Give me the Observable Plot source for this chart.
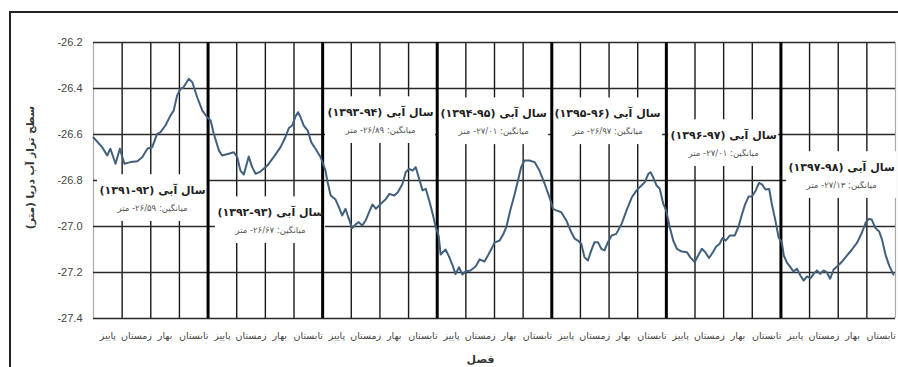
<!DOCTYPE html>
<html><head><meta charset="utf-8">
<script src="https://cdn.jsdelivr.net/npm/d3@7"></script>
<script src="https://cdn.jsdelivr.net/npm/@observablehq/plot@0.6"></script>
<style>
html,body{margin:0;padding:0;background:#fff;}
</style></head><body><div id="chart"></div>
<script>
// Categories / tick labels
const seasons = ["پاییز", "زمستان", "بهار", "تابستان"];
const yTicks = [-26.2, -26.4, -26.6, -26.8, -27.0, -27.2, -27.4];
const yTitle = "سطح تراز آب دریا (متر)";
const xTitle = "فصل";

// Water-year annotations
const waterYears = ["۹۲-۱۳۹۱", "۹۳-۱۳۹۲", "۹۴-۱۳۹۳", "۹۵-۱۳۹۴", "۹۶-۱۳۹۵", "۹۷-۱۳۹۶", "۹۸-۱۳۹۷"];
const yearMeans = ["۲۶/۵۹", "۲۶/۶۷", "۲۶/۸۹", "۲۷/۰۱", "۲۶/۹۷", "۲۷/۰۱", "۲۷/۱۳"];
const labelSeason = [2.06, 6.18, 10.02, 13.97, 17.95, 22.0, 26.12];
const labelLevel = [-26.843, -26.939, -26.504, -26.509, -26.509, -26.604, -26.743];

// Sea level series: [season position, level (m)] per water year
const wy1 = [[0,-26.613],[0.30,-26.655],[0.48,-26.691],[0.59,-26.662],[0.77,-26.727],[0.92,-26.662],[1.08,-26.727],[1.29,-26.720],[1.53,-26.716],[1.70,-26.699],[1.88,-26.662],[2.05,-26.655],[2.22,-26.597],[2.34,-26.590],[2.51,-26.561],[2.69,-26.517],[2.80,-26.496],[2.92,-26.430],[3.04,-26.401],[3.13,-26.397],[3.25,-26.373],[3.33,-26.358],[3.45,-26.373],[3.62,-26.438],[3.80,-26.496],[3.97,-26.525]];
const wy2 = [[4.09,-26.539],[4.20,-26.597],[4.38,-26.670],[4.49,-26.691],[4.72,-26.684],[4.90,-26.677],[5.02,-26.699],[5.13,-26.757],[5.25,-26.774],[5.42,-26.696],[5.54,-26.742],[5.66,-26.771],[5.83,-26.761],[6.07,-26.735],[6.30,-26.696],[6.53,-26.655],[6.70,-26.612],[6.82,-26.572],[6.94,-26.561],[7.05,-26.522],[7.14,-26.503],[7.23,-26.525],[7.34,-26.561],[7.48,-26.583],[7.60,-26.633],[7.75,-26.662],[7.93,-26.699]];
const wy3 = [[8.10,-26.757],[8.16,-26.800],[8.28,-26.865],[8.45,-26.883],[8.57,-26.917],[8.68,-26.952],[8.80,-26.923],[8.91,-26.965],[9.03,-27.007],[9.15,-26.991],[9.26,-26.981],[9.38,-26.996],[9.50,-26.974],[9.63,-26.935],[9.74,-26.904],[9.86,-26.923],[10.03,-26.901],[10.21,-26.880],[10.33,-26.858],[10.50,-26.865],[10.62,-26.852],[10.79,-26.814],[10.90,-26.764],[11.02,-26.749],[11.14,-26.757],[11.25,-26.742],[11.37,-26.793],[11.49,-26.843],[11.60,-26.836],[11.72,-26.887],[11.84,-26.945],[11.95,-27.003]];
const wy4 = [[12.05,-27.040],[12.12,-27.122],[12.29,-27.100],[12.41,-27.130],[12.54,-27.170],[12.64,-27.207],[12.76,-27.177],[12.88,-27.209],[12.99,-27.196],[13.16,-27.191],[13.34,-27.174],[13.48,-27.143],[13.65,-27.152],[13.79,-27.122],[13.90,-27.096],[14.00,-27.070],[14.18,-27.061],[14.30,-27.035],[14.42,-27.000],[14.54,-26.935],[14.70,-26.861],[14.82,-26.800],[14.93,-26.742],[15.05,-26.713],[15.22,-26.713],[15.40,-26.720],[15.57,-26.757],[15.75,-26.814],[15.92,-26.873]];
const wy5 = [[16.04,-26.923],[16.16,-26.930],[16.33,-26.938],[16.51,-26.974],[16.68,-27.025],[16.80,-27.053],[16.91,-27.061],[17.03,-27.075],[17.14,-27.133],[17.26,-27.148],[17.38,-27.104],[17.49,-27.068],[17.61,-27.068],[17.73,-27.097],[17.84,-27.104],[17.96,-27.068],[18.09,-27.039],[18.25,-27.032],[18.44,-26.988],[18.61,-26.930],[18.79,-26.874],[18.96,-26.843],[19.13,-26.822],[19.25,-26.807],[19.37,-26.771],[19.45,-26.764],[19.54,-26.786],[19.66,-26.822],[19.77,-26.836],[19.89,-26.901],[19.99,-26.930]];
const wy6 = [[20.12,-27.003],[20.24,-27.061],[20.37,-27.097],[20.54,-27.109],[20.72,-27.112],[20.83,-27.133],[20.99,-27.155],[21.11,-27.126],[21.24,-27.097],[21.36,-27.112],[21.49,-27.137],[21.63,-27.111],[21.74,-27.087],[21.86,-27.075],[21.96,-27.050],[22.07,-27.061],[22.22,-27.039],[22.39,-27.039],[22.52,-27.000],[22.65,-26.943],[22.75,-26.904],[22.87,-26.870],[22.99,-26.870],[23.12,-26.843],[23.23,-26.811],[23.34,-26.817],[23.46,-26.839],[23.59,-26.837],[23.68,-26.901],[23.80,-26.970],[23.92,-27.048]];
const wy7 = [[24.03,-27.068],[24.10,-27.126],[24.21,-27.157],[24.33,-27.177],[24.44,-27.196],[24.56,-27.184],[24.68,-27.213],[24.79,-27.235],[24.91,-27.217],[25.03,-27.226],[25.14,-27.206],[25.26,-27.191],[25.37,-27.206],[25.49,-27.191],[25.60,-27.199],[25.72,-27.227],[25.84,-27.187],[25.96,-27.174],[26.14,-27.152],[26.31,-27.126],[26.48,-27.100],[26.66,-27.070],[26.83,-27.026],[26.96,-26.983],[27.06,-26.967],[27.17,-26.970],[27.30,-27.007],[27.43,-27.022],[27.53,-27.057],[27.65,-27.122],[27.78,-27.170],[27.93,-27.209]];

const series = [wy1, wy2, wy3, wy4, wy5, wy6, wy7].flatMap((arr, i) => arr.map(([t, v]) => ({t, v, wy: i})));
const nSeasons = waterYears.length * seasons.length;
const seasonCenters = d3.range(nSeasons).map(k => k + 0.5);
const seasonBounds = d3.range(1, nSeasons).filter(k => k % 4 !== 0);
const yearBounds = d3.range(4, nSeasons, 4);
const RLE = "\u202B", PDF = "\u202C";
const rtl = s => RLE + s + PDF;
const annotations = waterYears.map((wy, i) => ({
  t: labelSeason[i], v: labelLevel[i],
  title: rtl("سال آبی (" + wy + ")"),
  sub: rtl("میانگین: " + yearMeans[i] + "- متر")
}));

const fa = "'DejaVu Sans', sans-serif";
const plot = Plot.plot({
  width: 898, height: 367,
  marginLeft: 93, marginRight: 3, marginTop: 42, marginBottom: 49,
  style: {background: "white", fontFamily: "'Liberation Sans', Arial, sans-serif", fontSize: "11px", color: "#333"},
  x: {domain: [0, nSeasons], axis: null},
  y: {domain: [-27.4, -26.2], axis: null},
  marks: [
    Plot.ruleX([0, nSeasons], {stroke: "#aaa", strokeWidth: 1.2}),
    Plot.ruleX(seasonBounds, {stroke: "#1a1a1a", strokeWidth: 1.4}),
    Plot.ruleY(yTicks, {stroke: "#2a2a2a", strokeWidth: 1.4}),
    Plot.rect(annotations, {x1: d => d.t - 1.92, x2: d => d.t + 1.92, y1: d => d.v + 0.068, y2: d => d.v - 0.135, fill: "white"}),
    Plot.ruleX(yearBounds, {stroke: "#000", strokeWidth: 3}),
    Plot.axisY(yTicks, {tickSize: 0, tickPadding: 11, tickFormat: d => d.toFixed(1), fontSize: 11, fill: "#444", label: null}),
    Plot.axisX(seasonCenters, {tickSize: 0, tickPadding: 14, tickFormat: d => seasons[Math.floor(d) % 4], fontSize: 9.5, fontFamily: fa, fill: "#444", label: null}),
    Plot.line(series, {x: "t", y: "v", stroke: "#42607c", strokeWidth: 2, strokeLinejoin: "round"}),
    Plot.text(annotations, {x: "t", y: "v", text: "title", fontSize: 11, fontWeight: "bold", fontFamily: fa, fill: "#1e1e1e"}),
    Plot.text(annotations, {x: "t", y: "v", dy: 18, text: "sub", fontSize: 8.5, fontFamily: fa, fill: "#555"}),
    Plot.text([xTitle], {frameAnchor: "bottom", lineAnchor: "middle", textAnchor: "middle", dy: 41, dx: -14, text: d => d, fontSize: 11, fontWeight: "bold", fontFamily: fa, fill: "#333"}),
    Plot.text([yTitle], {frameAnchor: "left", textAnchor: "middle", lineAnchor: "middle", dx: -63, dy: -13, rotate: -90, text: d => rtl(d), fontSize: 10.5, fontWeight: "bold", fontFamily: fa, fill: "#333"})
  ]
});
d3.select(plot).append("path").attr("d", "M10,367V12H898").attr("fill", "none").attr("stroke", "#222").attr("stroke-width", 2);
document.getElementById("chart").appendChild(plot);
</script></body></html>
